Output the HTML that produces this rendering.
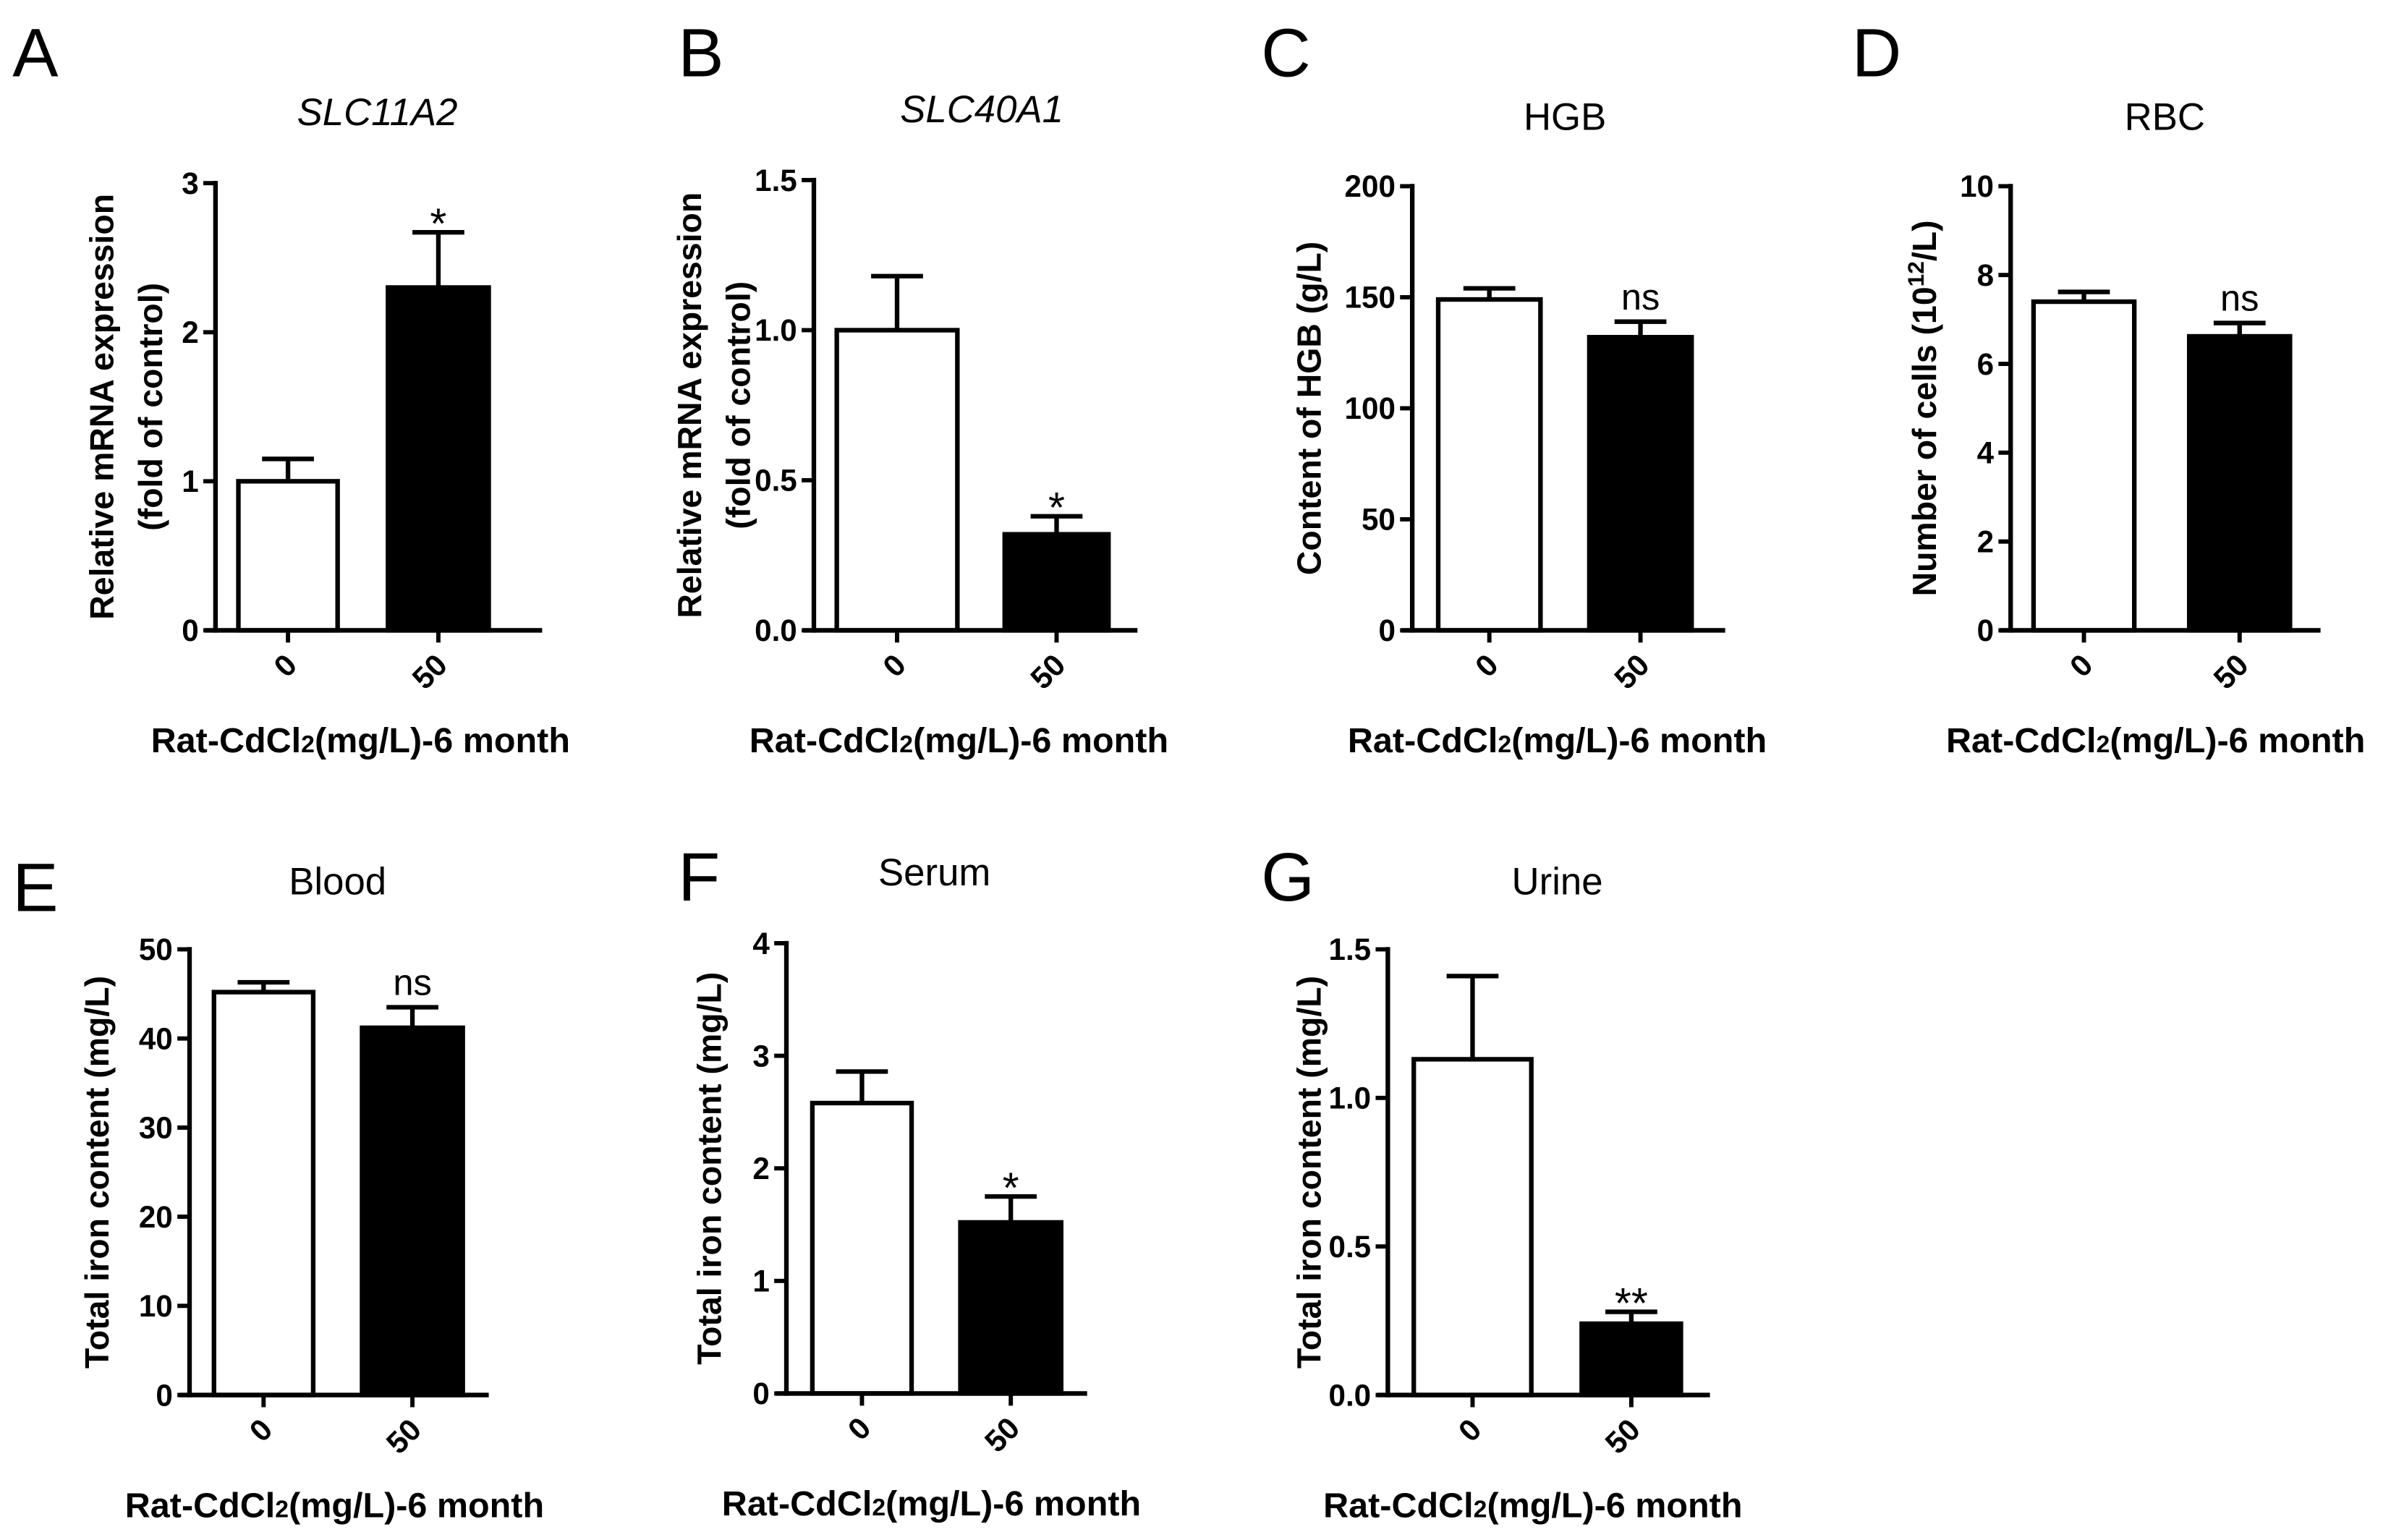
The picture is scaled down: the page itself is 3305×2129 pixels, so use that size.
<!DOCTYPE html>
<html><head><meta charset="utf-8"><style>
html,body{margin:0;padding:0;background:#fff;}
svg{display:block;}
text{font-family:"Liberation Sans",sans-serif;fill:#000;}
</style></head>
<body>
<svg id="fig" width="3305" height="2129" viewBox="0 0 1566 1009" xmlns="http://www.w3.org/2000/svg"></svg>
<script>
// ---- data ----
const categories = ["0", "50"];
const panelIds = ["A","B","C","D","E","F","G"];
const panelTitles = ["SLC11A2","SLC40A1","HGB","RBC","Blood","Serum","Urine"];
const meansA = [1.0, 2.3];   const errA = [1.15, 2.67];
const meansB = [1.0, 0.32];  const errB = [1.18, 0.38];
const meansC = [149, 132];   const errC = [154, 139];
const meansD = [7.4, 6.62];  const errD = [7.62, 6.92];
const meansE = [45.2, 41.2]; const errE = [46.3, 43.5];
const meansF = [2.58, 1.52]; const errF = [2.86, 1.75];
const meansG = [1.13, 0.24]; const errG = [1.41, 0.28];
const ticksA = [0,1,2,3];        const tickLabelsA = ["0","1","2","3"];
const ticksB = [0,0.5,1,1.5];    const tickLabelsB = ["0.0","0.5","1.0","1.5"];
const ticksC = [0,50,100,150,200]; const tickLabelsC = ["0","50","100","150","200"];
const ticksD = [0,2,4,6,8,10];   const tickLabelsD = ["0","2","4","6","8","10"];
const ticksE = [0,10,20,30,40,50]; const tickLabelsE = ["0","10","20","30","40","50"];
const ticksF = [0,1,2,3,4];      const tickLabelsF = ["0","1","2","3","4"];
const ticksG = [0,0.5,1,1.5];    const tickLabelsG = ["0.0","0.5","1.0","1.5"];
const sigLabels = ["*","*","ns","ns","ns","*","**"];

// ---- layout ----
const NS="http://www.w3.org/2000/svg";
const svg=document.getElementById('fig');
function el(tag,attrs,parent,txt){const e=document.createElementNS(NS,tag);for(const k in attrs)e.setAttribute(k,attrs[k]);if(txt!==undefined)e.textContent=txt;(parent||svg).appendChild(e);return e;}

const layouts=[
 {ax:141,top:120,bot:413,b0:[156,221],b1:[254,320],xr:355,letter:[8,50],title:[247,82],ylab:["Relative mRNA expression","(fold of control)"],ylx:[74,106],italic:true},
 {ax:533,top:118,bot:413,b0:[548,627],b1:[658,726],xr:745,letter:[444,50],title:[643,80],ylab:["Relative mRNA expression","(fold of control)"],ylx:[459,491],italic:true},
 {ax:925,top:122,bot:413,b0:[942,1009],b1:[1041,1108],xr:1130,letter:[826,50],title:[1025,85],ylab:["Content of HGB (g/L)"],ylx:[865]},
 {ax:1317,top:122,bot:413,b0:[1332,1398],b1:[1434,1500],xr:1520,letter:[1213,50],title:[1418,85],ylab:["Number of cells (10^12/L)"],ylx:[1268]},
 {ax:124,top:622,bot:914,b0:[140,205],b1:[237,303],xr:320,letter:[8,597],title:[221,586],ylab:["Total iron content (mg/L)"],ylx:[71]},
 {ax:515,top:618,bot:913,b0:[532,597],b1:[629,695],xr:712,letter:[444,590],title:[612,580],ylab:["Total iron content (mg/L)"],ylx:[472]},
 {ax:909,top:622,bot:914,b0:[926,1003],b1:[1036,1101],xr:1120,letter:[826,590],title:[1020,586],ylab:["Total iron content (mg/L)"],ylx:[865]}
];
const means=[meansA,meansB,meansC,meansD,meansE,meansF,meansG];
const errs=[errA,errB,errC,errD,errE,errF,errG];
const ticks=[ticksA,ticksB,ticksC,ticksD,ticksE,ticksF,ticksG];
const tickLabels=[tickLabelsA,tickLabelsB,tickLabelsC,tickLabelsD,tickLabelsE,tickLabelsF,tickLabelsG];

layouts.forEach((L,i)=>{
  const g=el('g',{});
  
  
  const tk=ticks[i]; const ymax=tk[tk.length-1];
  const y=v=>L.bot-(v/ymax)*(L.bot-L.top);
  const lt=el('text',{x:L.letter[0],y:L.letter[1],'font-size':45},g,panelIds[i]);
   
  const tt=el('text',{x:L.title[0],y:L.title[1],'font-size':25,'text-anchor':'middle','font-style':L.italic?'italic':'normal'},g,panelTitles[i]);
   
  [L.b0,L.b1].forEach((b,j)=>{
    const m=means[i][j], e=errs[i][j], cx=(b[0]+b[1])/2;
    const ln=el('line',{x1:cx,x2:cx,y1:y(m),y2:y(e),stroke:'#000','stroke-width':3},g);
     
    const cap=el('line',{x1:cx-17,x2:cx+17,y1:y(e),y2:y(e),stroke:'#000','stroke-width':3},g);
     
    const r=el('rect',{x:b[0],y:y(m),width:b[1]-b[0],height:L.bot-y(m),fill:j?'#000':'#fff',stroke:'#000','stroke-width':3},g);
     
    const xt=el('line',{x1:cx,x2:cx,y1:L.bot,y2:L.bot+8,stroke:'#000','stroke-width':2.8},g);
     
    const xl=el('text',{x:0,y:0,'font-size':20,'font-weight':'bold','text-anchor':'end',transform:`translate(${cx+7},${L.bot+24}) rotate(-45)`},g,categories[j]);
     
    if(j===1){
      const ns=sigLabels[i]==='ns';
      const s=el('text',{x:cx,y:ns?y(e)-8:y(e)+4,'font-size':ns?24:28,'text-anchor':'middle','font-family':'"Liberation Serif",serif'},g,sigLabels[i]);
       
    }
  });
  const ya=el('line',{x1:L.ax,x2:L.ax,y1:L.top-1.5,y2:L.bot+1.5,stroke:'#000','stroke-width':3},g);
   
  const xa=el('line',{x1:L.ax-7,x2:L.xr,y1:L.bot,y2:L.bot,stroke:'#000','stroke-width':3},g);
   
  tk.forEach((v,k)=>{
    const t=el('line',{x1:L.ax-8,x2:L.ax,y1:y(v),y2:y(v),stroke:'#000','stroke-width':2.8},g);
     
    const tl=el('text',{x:L.ax-11,y:y(v)+7,'font-size':20,'font-weight':'bold','text-anchor':'end'},g,tickLabels[i][k]);
     
  });
  const cy=(L.top+L.bot)/2;
  L.ylab.forEach((s,k)=>{
    const t=el('text',{x:0,y:0,'font-size':22,'font-weight':'bold','text-anchor':'middle',transform:`translate(${L.ylx[k]},${cy}) rotate(-90)`},g);
     
    if(s.indexOf('^')>=0){
      t.appendChild(document.createTextNode('Number of cells (10'));
      el('tspan',{dy:-8,'font-size':15},t,'12');
      el('tspan',{dy:8},t,'/L)');
    } else t.textContent=s;
  });
  const xcx=L.ax+95, xty=L.bot+80;
  const xt=el('text',{x:xcx,y:xty,'font-size':23,'font-weight':'bold','text-anchor':'middle'},g);
   
  xt.appendChild(document.createTextNode('Rat-CdCl'));
  el('tspan',{'font-size':16},xt,'2');
  el('tspan',{},xt,'(mg/L)-6 month');
});
</script>
</body></html>
